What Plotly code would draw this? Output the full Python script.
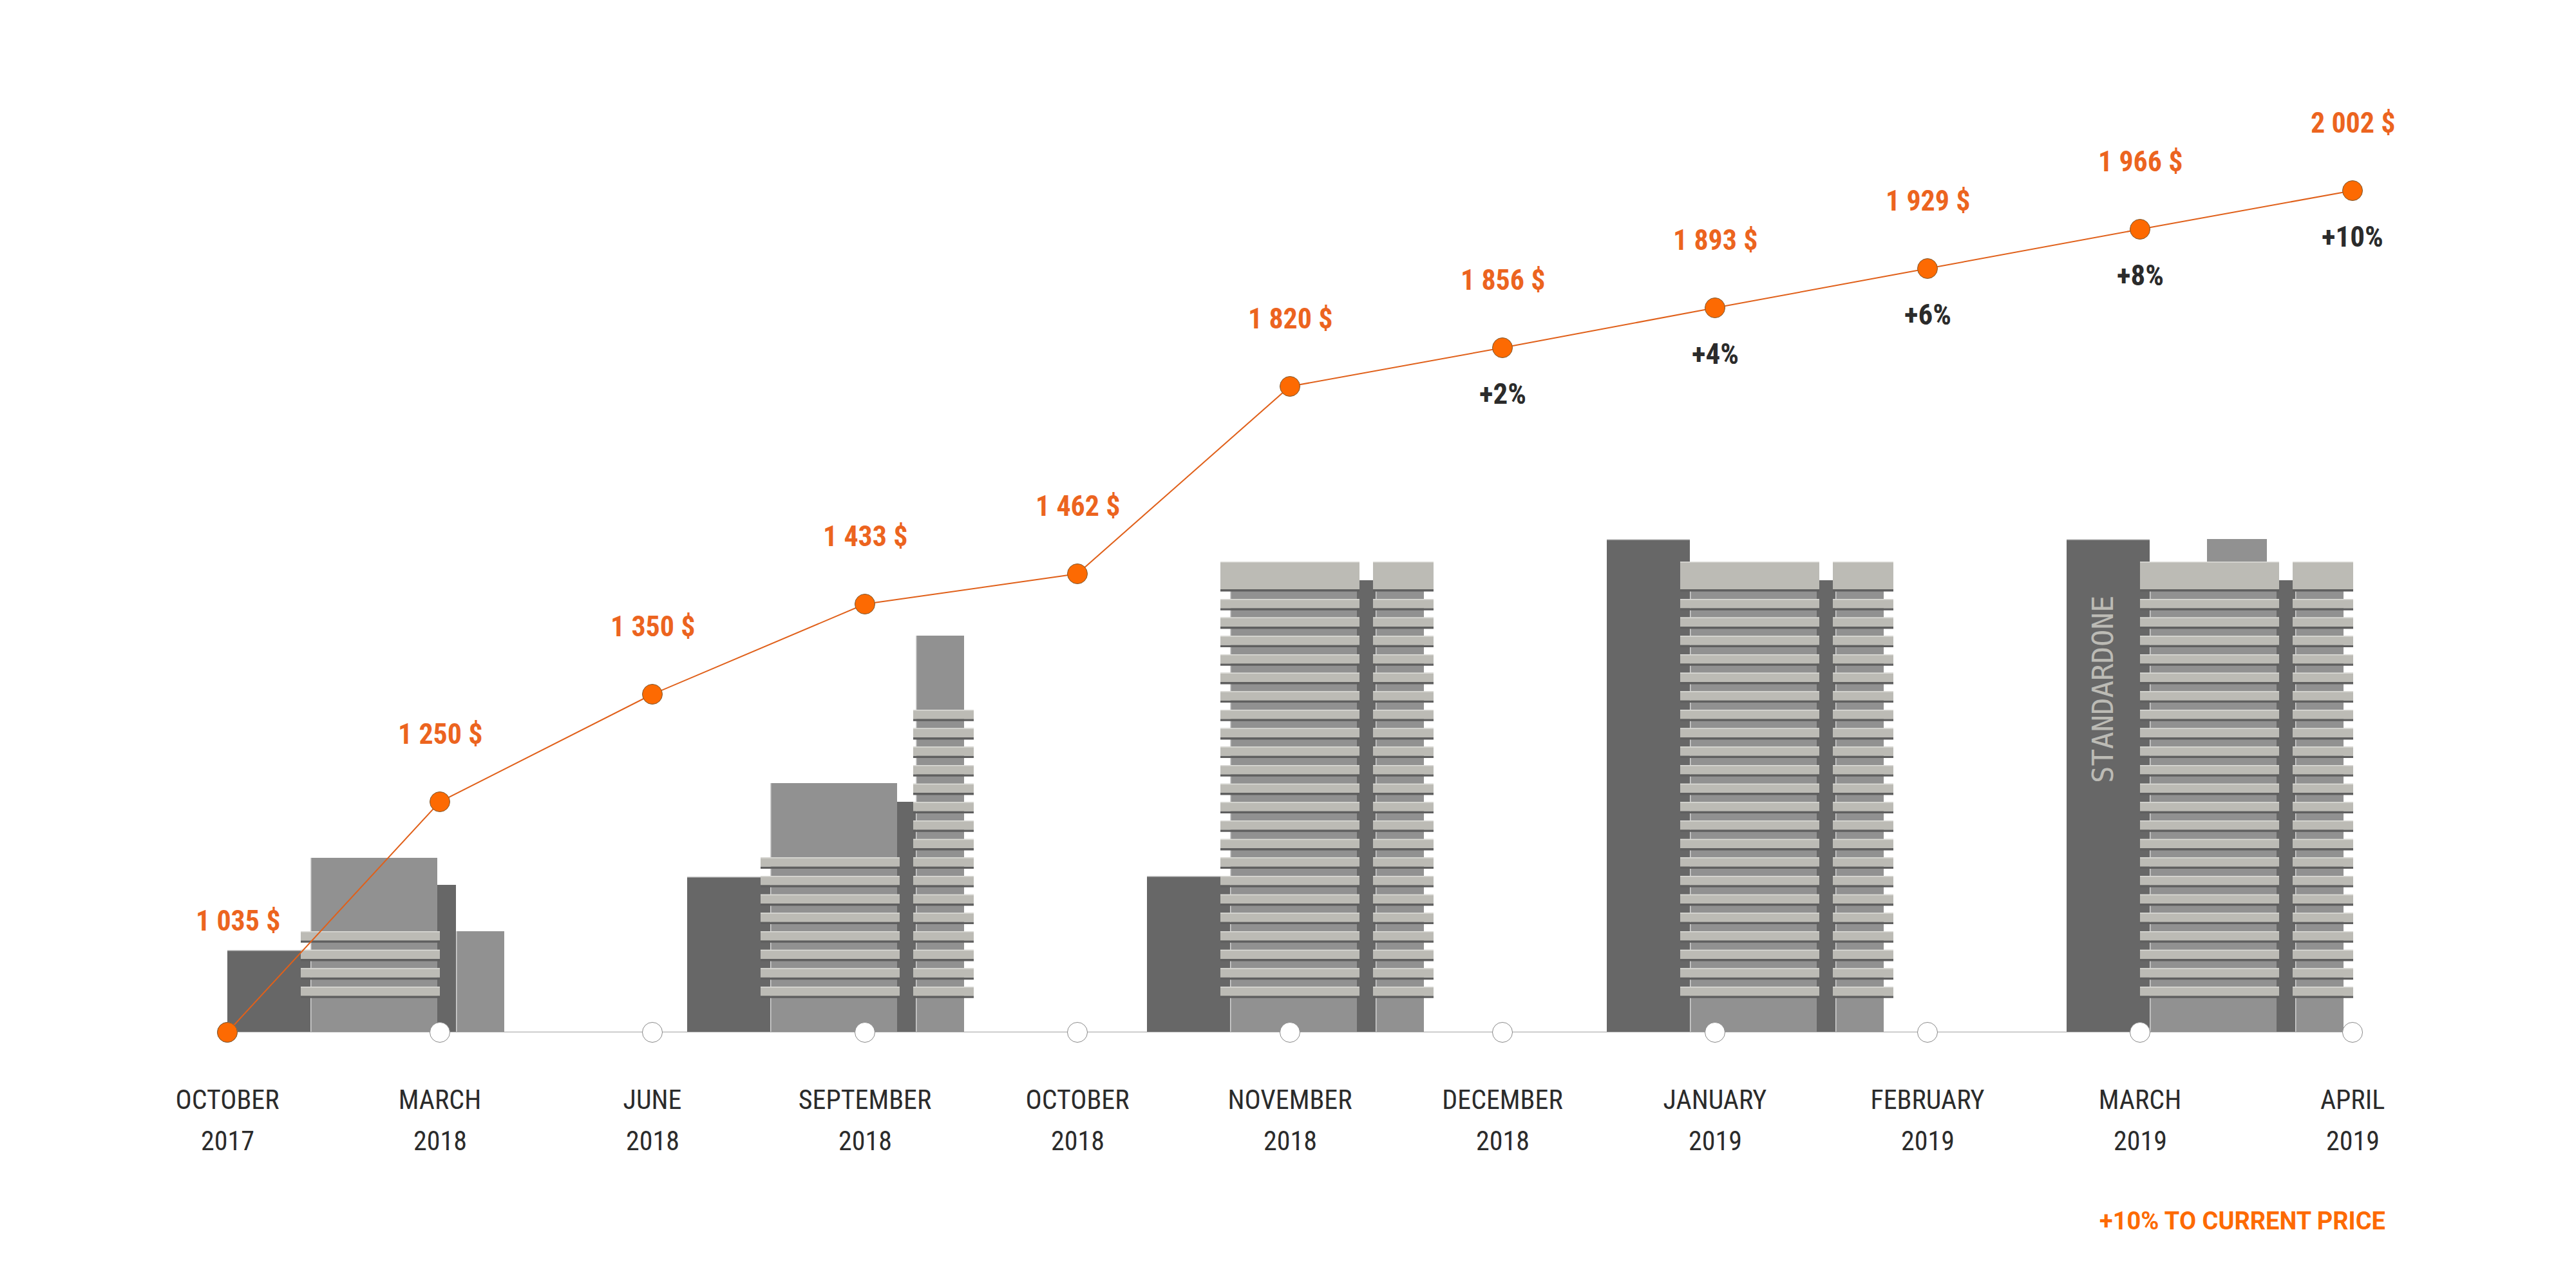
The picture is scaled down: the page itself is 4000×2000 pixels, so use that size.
import plotly.graph_objects as go

months = ["OCTOBER", "MARCH", "JUNE", "SEPTEMBER", "OCTOBER", "NOVEMBER",
          "DECEMBER", "JANUARY", "FEBRUARY", "MARCH", "APRIL"]
years = ["2017", "2018", "2018", "2018", "2018", "2018", "2018", "2019", "2019", "2019", "2019"]
price_labels = ["1 035 $", "1 250 $", "1 350 $", "1 433 $", "1 462 $", "1 820 $",
                "1 856 $", "1 893 $", "1 929 $", "1 966 $", "2 002 $"]
line_levels = [0, 358, 525, 665, 712, 1003, 1063, 1125, 1186, 1247, 1307]
pct_labels = ["", "", "", "", "", "", "+2%", "+4%", "+6%", "+8%", "+10%"]
slots = [0, 330, 660, 990, 1320, 1650, 1980, 2310, 2640, 2970, 3300]

# one building group per entry: left edge, height of the dark block, podium height,
# floors on the main and side wing (roof only on the full towers)
group_x = [0, 714, 1428, 2142, 2856]
group_dark = [128, 242, 243, 766, 766]
group_mid = [271, 387, 688, 688, 688]
group_narrow = [229, 358, 702, 702, 702]
group_side = [157, 616, 688, 688, 688]
group_floors = [4, 8, 22, 22, 22]
group_side_floors = [0, 16, 22, 22, 22]
group_roof = [False, False, True, True, True]

ORANGE = "#fd6a02"
LABEL_ORANGE = "#ec641f"
DARK = "#676767"
MID = "#919191"
SLAB = "#bcbbb5"
SLAB_TOP = "#dcdcd8"
SLAB_SHADOW = "#5f5f5f"
EDGE = "#d2d2d2"
TEXT = "#2b2b2b"
NARROW_FONT = "Roboto Condensed, Roboto, sans-serif"


def block(x0, x1, y0, y1, color):
    return dict(type="rect", xref="x", yref="y", x0=x0, x1=x1, y0=y0, y1=y1,
                fillcolor=color, line_width=0, layer="below")


def slab(x0, x1, top, bottom):
    return [
        block(x0, x1, bottom - 3.5, bottom, SLAB_SHADOW),
        block(x0, x1, bottom, top, SLAB),
        block(x0, x1, top - 1.5, top, SLAB_TOP),
    ]


def building(g, i):
    parts = [
        block(g, g + 129, 0, group_dark[i], DARK),
        block(g, g + 129, group_dark[i] - 1.5, group_dark[i], EDGE),
        block(g + 129, g + 326, 0, group_mid[i], MID),
        block(g + 326, g + 355, 0, group_narrow[i], DARK),
        block(g + 356, g + 430, 0, group_side[i], MID),
        block(g + 129, g + 130.5, 0, group_mid[i], EDGE),
        block(g + 355, g + 356.5, 0, group_side[i], EDGE),
    ]
    if i == 4:
        parts.append(block(g + 218, g + 311, 680, 766, MID))
    for floor in range(group_floors[i]):
        top = 71 + floor * 28.67
        parts += slab(g + 114, g + 330, top, top - 14.3)
    for floor in range(group_side_floors[i]):
        top = 71 + floor * 28.67
        parts += slab(g + 351, g + 445, top, top - 14.3)
    if group_roof[i]:
        parts += slab(g + 114, g + 330, 731, 688)
        parts += slab(g + 351, g + 445, 731, 688)
    return parts


shapes = []
for i, g in enumerate(group_x):
    shapes += building(g, i)

fig = go.Figure()
fig.add_trace(go.Scatter(
    x=slots, y=[0] * len(slots), mode="lines+markers", cliponaxis=False, hoverinfo="skip",
    line=dict(color="#a0a0a0", width=2),
    marker=dict(size=31, color="white", line=dict(color="#8a8a8a", width=1)),
))
fig.add_trace(go.Scatter(
    x=slots, y=line_levels, mode="lines+markers", cliponaxis=False,
    line=dict(color="#e0601a", width=2),
    marker=dict(size=31, color=ORANGE, line=dict(color="#7c5a35", width=1)),
))

annotations = []
for i, x in enumerate(slots):
    annotations.append(dict(
        x=x, y=line_levels[i], xref="x", yref="y", text=f"<b>{price_labels[i]}</b>", showarrow=False,
        xshift=16 if i == 0 else 0, yshift=173 if i == 0 else 105,
        font=dict(family=NARROW_FONT, size=44, color=LABEL_ORANGE),
    ))
    if pct_labels[i]:
        annotations.append(dict(
            x=x, y=line_levels[i], xref="x", yref="y", text=f"<b>{pct_labels[i]}</b>", showarrow=False,
            yshift=-71, font=dict(family=NARROW_FONT, size=45, color=TEXT),
        ))
    annotations.append(dict(
        x=x, y=0, xref="x", yref="y", text=years[i], showarrow=False, yshift=-168,
        font=dict(family=NARROW_FONT, size=42, color=TEXT),
    ))

annotations.append(dict(
    x=3353, y=-293 / 1500, xref="x", yref="paper", xanchor="right", yanchor="middle", showarrow=False,
    text="<b>+10% TO CURRENT PRICE</b>",
    font=dict(family="Roboto, sans-serif", size=38, color=ORANGE),
))
annotations.append(dict(
    x=2912, y=532, xref="x", yref="y", text="STANDARDONE", textangle=-90, showarrow=False,
    font=dict(family="DejaVu Sans Mono, monospace", size=44, color=SLAB),
))

# the page body adds 8 px on the left and top
fig.update_layout(
    width=4000, height=2000, showlegend=False,
    margin=dict(l=180, r=190, t=95, b=405, pad=0),
    paper_bgcolor="white", plot_bgcolor="white",
    shapes=shapes, annotations=annotations,
    xaxis=dict(
        range=[-165, 3465], tickmode="array", tickvals=slots, ticktext=months,
        tickfont=dict(family=NARROW_FONT, size=42, color=TEXT),
        ticks="outside", ticklen=68, tickcolor="rgba(0,0,0,0)",
        showgrid=False, zeroline=False, showline=False,
    ),
    yaxis=dict(range=[0, 1500], visible=False),
)

fig.write_html("out.html")
